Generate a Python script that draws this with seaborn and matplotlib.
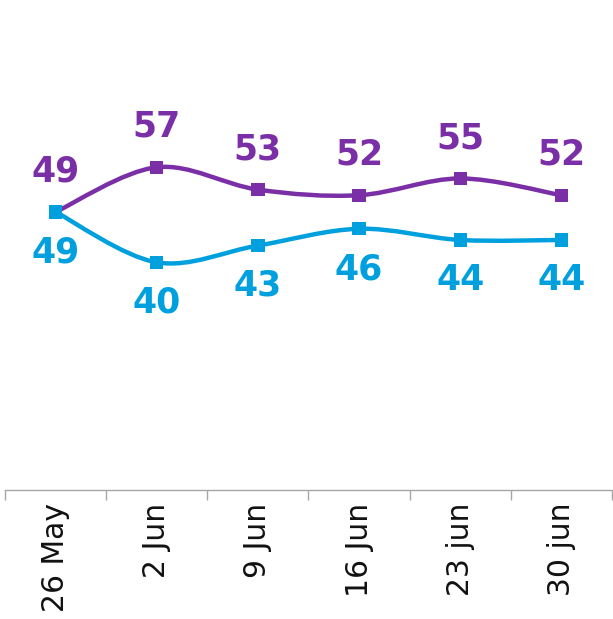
import numpy as np
import pandas as pd
import matplotlib.pyplot as plt
import seaborn as sns
from matplotlib.path import Path
from matplotlib.patches import PathPatch

# chart values
weeks = ["26 May", "2 Jun", "9 Jun", "16 Jun", "23 jun", "30 jun"]
purple_vals = [49, 57, 53, 52, 55, 52]
blue_vals = [49, 40, 43, 46, 44, 44]

purple = "#7B2FA6"
blue = "#00A0DE"

sns.set_style("white")
plt.rcParams["font.family"] = ["DejaVu Sans"]

fig = plt.figure(figsize=(6.13, 6.19), dpi=100)
ax = fig.add_axes([5 / 613, 129 / 619, 607 / 613, 490 / 619])

data = pd.DataFrame({
    "x": list(range(len(weeks))) * 2,
    "value": purple_vals + blue_vals,
    "series": ["purple"] * len(weeks) + ["blue"] * len(weeks),
})


def smooth_path(xs, ys):
    # Excel-style smoothed line: cubic Bezier segments through each point
    pts = np.column_stack([xs, ys]).astype(float)
    ext = np.vstack([pts[0], pts, pts[-1]])
    verts = [tuple(pts[0])]
    codes = [Path.MOVETO]
    for i in range(1, len(ext) - 2):
        p0, p1, p2, p3 = ext[i - 1], ext[i], ext[i + 1], ext[i + 2]
        c1 = p1 + (p2 - p0) / 6
        c2 = p2 - (p3 - p1) / 6
        verts += [tuple(c1), tuple(c2), tuple(p2)]
        codes += [Path.CURVE4] * 3
    return Path(verts, codes)


x = np.arange(len(weeks))
for vals, col in [(blue_vals, blue), (purple_vals, purple)]:
    ax.add_patch(PathPatch(smooth_path(x, vals), facecolor="none",
                           edgecolor=col, lw=3.2, capstyle="round", zorder=2))

sns.scatterplot(data=data, x="x", y="value", hue="series",
                palette={"purple": purple, "blue": blue}, marker="s", s=90,
                edgecolor="none", legend=False, ax=ax, zorder=3)

for i in range(len(weeks)):
    ax.annotate(str(purple_vals[i]), (i, purple_vals[i]), xytext=(0, 29),
                textcoords="offset points", ha="center", va="center",
                fontsize=25, fontweight="bold", color=purple)
    ax.annotate(str(blue_vals[i]), (i, blue_vals[i]), xytext=(0, -29),
                textcoords="offset points", ha="center", va="center",
                fontsize=25, fontweight="bold", color=blue)

ax.set_xlim(-0.5, len(weeks) - 0.5)
ax.set_ylim(-0.7, 86.9)
ax.set_xticks(x)
ax.set_xticklabels(weeks, rotation=90, fontsize=21.5, color="#111111")
ax.set_xticks(np.arange(-0.5, len(weeks)), minor=True)
ax.tick_params(axis="x", which="major", bottom=False, length=0, pad=9)
ax.tick_params(axis="x", which="minor", bottom=True, length=7, width=1,
               color="#a6a6a6")
ax.set_yticks([])
ax.set_xlabel("")
ax.set_ylabel("")
for side in ["top", "left", "right"]:
    ax.spines[side].set_visible(False)
ax.spines["bottom"].set_color("#a6a6a6")
ax.spines["bottom"].set_linewidth(1)

fig.savefig("out.png", dpi=100)
